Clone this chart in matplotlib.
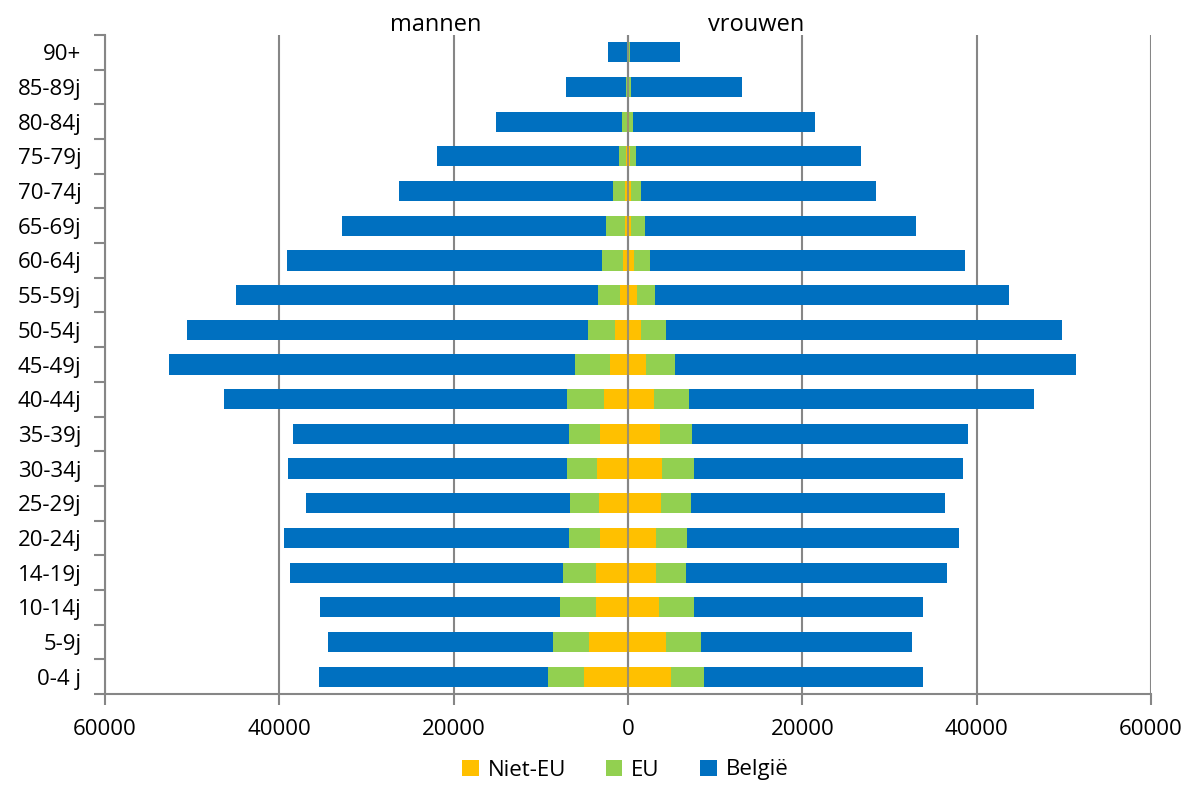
import matplotlib
matplotlib.use("Agg")
import matplotlib.pyplot as plt
from matplotlib.ticker import FuncFormatter, FixedLocator
import numpy as np

plt.rcParams['font.family'] = ['Open Sans', 'DejaVu Sans']

categories = ["0-4 j", "5-9j", "10-14j", "14-19j", "20-24j", "25-29j", "30-34j",
              "35-39j", "40-44j", "45-49j", "50-54j", "55-59j", "60-64j", "65-69j",
              "70-74j", "75-79j", "80-84j", "85-89j", "90+"]

men_niet_eu = [5085, 4475, 3710, 3710, 3250, 3365, 3595, 3250, 2790, 2100,
               1490, 880, 610, 380, 300, 190, 120, 50, 20]
men_eu = [4130, 4165, 4050, 3750, 3480, 3325, 3405, 3555, 4245, 3940,
          3100, 2520, 2330, 2100, 1415, 840, 560, 200, 80]
men_belgie = [26265, 25730, 27530, 31340, 32690, 30200, 31960, 31615, 39295, 46640,
              45990, 41520, 36130, 30320, 24515, 20910, 14460, 6850, 2200]

women_niet_eu = [4895, 4360, 3595, 3175, 3210, 3750, 3940, 3635, 2945, 2065,
                 1530, 995, 650, 345, 345, 190, 100, 50, 20]
women_eu = [3865, 4015, 3940, 3520, 3555, 3520, 3670, 3710, 4090, 3365,
            2830, 2065, 1835, 1650, 1150, 765, 510, 290, 170]
women_belgie = [25040, 24165, 26345, 29895, 31165, 29130, 30850, 31615, 39495, 45990,
                45450, 40600, 36125, 31075, 26915, 25735, 20800, 12740, 5810]

series_names = ["Niet-EU", "EU", "België"]
colors = ["#FFC000", "#92D050", "#0070C0"]
xticks = [-60000, -40000, -20000, 0, 20000, 40000, 60000]

fig = plt.figure(figsize=(11.89, 7.85), dpi=100)
ax = fig.add_axes([105/1189, 1-694/785, (1151-105)/1189, (694-35)/785])

y = np.arange(len(categories))
h = 0.58
men = [men_niet_eu, men_eu, men_belgie]
women = [women_niet_eu, women_eu, women_belgie]

left_m = np.zeros(len(categories))
left_w = np.zeros(len(categories))
for i in range(3):
    m = np.array(men[i], dtype=float)
    w = np.array(women[i], dtype=float)
    ax.barh(y, -m, left=-left_m, height=h, color=colors[i], label=series_names[i],
            zorder=2, edgecolor='none')
    ax.barh(y, w, left=left_w, height=h, color=colors[i], zorder=2, edgecolor='none')
    left_m += m
    left_w += w

ax.set_xlim(-60000, 60000)
ax.set_ylim(-0.5, len(categories) - 0.5)
ax.xaxis.set_major_locator(FixedLocator(xticks))
ax.xaxis.set_major_formatter(FuncFormatter(lambda v, p: f"{abs(int(v))}"))
ax.grid(axis='x', color='#868686', linewidth=1.5, zorder=1)
ax.set_axisbelow(True)
ax.axvline(0, color='#868686', linewidth=1.5, zorder=3, alpha=0.8)

ax.set_yticks(y)
ax.set_yticklabels(categories)
ax.set_yticks(np.arange(-0.5, len(categories), 1.0), minor=True)
ax.tick_params(axis='y', which='major', length=0, pad=17, labelsize=16)
ax.tick_params(axis='y', which='minor', length=8, color='#868686', width=1.5)
ax.tick_params(axis='x', which='major', length=8, color='#868686', width=1.5,
               direction='out', labelsize=16, pad=10)

for s in ['top', 'right']:
    ax.spines[s].set_visible(False)
for s in ['left', 'bottom']:
    ax.spines[s].set_color('#868686')
    ax.spines[s].set_linewidth(1.5)

fig.text(436/1189, 1-25/785, "mannen", ha='center', va='center', fontsize=17)
fig.text(756/1189, 1-25/785, "vrouwen", ha='center', va='center', fontsize=17)

handles, labels = ax.get_legend_handles_labels()
fig.legend(handles, labels, loc='center', bbox_to_anchor=(625/1189, 1-770/785), ncol=3,
           frameon=False, fontsize=16, handlelength=0.75, handleheight=0.75,
           columnspacing=1.8, handletextpad=0.4, borderpad=0)

fig.savefig("out.png", dpi=100)
